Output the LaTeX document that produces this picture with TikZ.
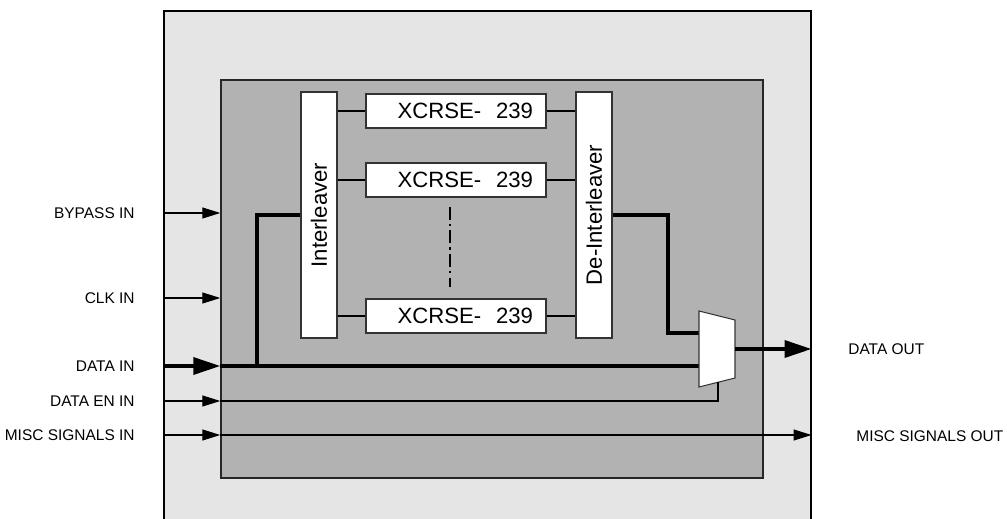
\documentclass[tikz,border=0pt]{standalone}
\usepackage{fontspec}
\setmainfont{Liberation Sans}
\usepackage{graphicx}
\usepackage{tikz}
\usetikzlibrary{arrows.meta,positioning}
\definecolor{shellgray}{HTML}{E5E5E5}
\definecolor{coregray}{HTML}{B2B2B2}

\begin{document}
\begin{tikzpicture}[x=0.2mm, y=-0.2mm, line width=0.6pt, font=\fontsize{8.8}{10.5}\selectfont]

\tikzstyle{block}=[draw=black!80, fill=white, line width=0.6pt, inner sep=0pt]
\tikzstyle{rsbox}=[block, minimum width=36mm, minimum height=6.8mm, text width=30.8mm, inner xsep=2.6mm, align=right, font=\fontsize{12.6}{14}\selectfont]
\tikzstyle{ilbox}=[block, minimum width=7.2mm, minimum height=49.2mm, font=\fontsize{12.6}{14}\selectfont]
\tikzstyle{sig}=[-{Triangle[length=3.6mm,width=2.2mm]}, line width=0.6pt]
\tikzstyle{bus}=[-{Triangle[length=5.4mm,width=3.4mm]}, line width=2pt]
\tikzstyle{busline}=[line width=2pt]

\useasboundingbox (0,0) rectangle (1007,519);

\node[draw=black, fill=shellgray, minimum width=129.4mm, minimum height=105.8mm, inner sep=0pt] (shell) at (487.5,275.5) {};
\node[draw=black!85, fill=coregray, line width=0.8pt, minimum width=108.4mm, minimum height=79.6mm, inner sep=0pt] (core) at (492,279) {};

\node[ilbox] (il) at (319,215) {\rotatebox{90}{Interleaver}};
\node[ilbox] (dil) at (594,215) {\rotatebox{90}{De-Interleaver}};
\node[rsbox] (rs1) at (456,111) {XCRSE-\ \ 239};
\node[rsbox] (rs2) at (456,180) {XCRSE-\ \ 239};
\node[rsbox] (rs3) at (456,316) {XCRSE-\ \ 239};

\node[anchor=east] (bypass) at (141,213) {BYPASS IN};
\node[anchor=east] (clk) at (141,298) {CLK IN};
\node[anchor=east] (datain) at (141,366) {DATA IN};
\node[anchor=east] (daten) at (141,401) {DATA EN IN};
\node[anchor=east] (miscin) at (141,435) {MISC SIGNALS IN};
\node[anchor=west] (dataout) at (842,349) {DATA OUT};
\node[anchor=west] (miscout) at (850,436) {MISC SIGNALS OUT};

% mux
\coordinate (muxlt) at (699,311);
\coordinate (muxlb) at (699,387);
\coordinate (muxrt) at (735,320);
\coordinate (muxrb) at (735,378);
\coordinate (muxout) at (735,349);
\coordinate (muxsel) at (718,382.3);
\coordinate (bend) at (668,333);
\coordinate (branch) at (257,366);
\draw[busline] (dil.east) -| (bend) -- (muxlt |- bend);
\draw[busline] (core.west |- datain) -- (muxlt |- datain);
\draw[busline] (branch) |- (il.west);
\filldraw[fill=white, draw=black!80, line width=0.6pt] (muxlt) -- (muxrt) -- (muxrb) -- (muxlb) -- cycle;

\path[draw, line width=0.8pt]
(il.east |- rs1) edge (rs1.west)
(il.east |- rs2) edge (rs2.west)
(il.east |- rs3) edge (rs3.west)
(rs1.east) edge (dil.west |- rs1)
(rs2.east) edge (dil.west |- rs2)
(rs3.east) edge (dil.west |- rs3);

\draw[line width=1.3pt, dash pattern=on 2.6mm off 0.8mm on 0.5mm off 0.8mm] (450,207) -- (450,287);

\draw[sig] (shell.west |- bypass) -- (core.west |- bypass);
\draw[sig] (shell.west |- clk) -- (core.west |- clk);
\draw[bus] (shell.west |- datain) -- (core.west |- datain);
\draw[sig] (shell.west |- daten) -- (core.west |- daten);
\draw (core.west |- daten) -| (muxsel);
\draw[sig] (shell.west |- miscin) -- (core.west |- miscin);
\draw[sig] (core.west |- miscin) -- (shell.east |- miscin);
\draw[bus] (muxout) -- (shell.east |- muxout);
\end{tikzpicture}
\end{document}
